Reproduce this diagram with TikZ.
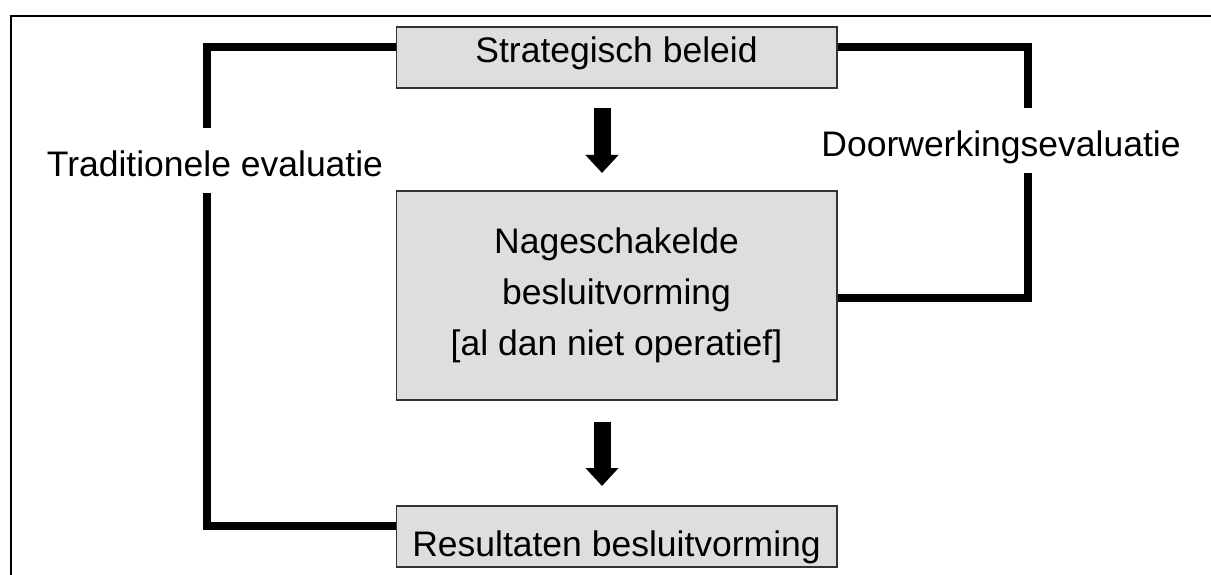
\documentclass[tikz,border=0pt]{standalone}
\usepackage{fontspec}
\setmainfont{Liberation Sans}
\usetikzlibrary{arrows.meta}
\tikzset{
  stage/.style={draw=black!80, line width=1.5pt, fill=black!13,
    minimum width=440.5pt, inner sep=0pt, align=center,
    font=\fontsize{35.5}{51}\selectfont},
  caption/.style={inner sep=0pt, anchor=base,
    font=\fontsize{35.5}{51}\selectfont},
  feedback/.style={line width=8pt, line join=miter},
  flow/.style={line width=17pt, -{Triangle[width=32pt,length=18pt]}},
}
\begin{document}
\begin{tikzpicture}[x=1pt,y=-1pt]
  \useasboundingbox (0,0) rectangle (1211,575);

  % outer frame
  \draw[line width=2pt] (11,575) -- (11,15.7) -- (1211,15.7);

  % coordinates of the feedback loops
  \coordinate (tl)    at (206.7,46.7);
  \coordinate (tlgap) at (206.7,128);
  \coordinate (blgap) at (206.7,193);
  \coordinate (bl)    at (206.7,526);
  \coordinate (tr)    at (1027.5,46.7);
  \coordinate (trgap) at (1027.5,108);
  \coordinate (brgap) at (1027.5,173);
  \coordinate (br)    at (1027.5,297.5);
  \coordinate (ax)    at (602,0);

  % stages
  \node[stage, minimum height=61pt, text height=26pt, text depth=15pt]
    (top) at (616.5,57.5) {Strategisch beleid};
  \node[stage, minimum height=209pt]
    (mid) at (616.5,295.5) {Nageschakelde\\besluitvorming\\{[al dan niet operatief]}};
  \node[stage, minimum height=61pt, text height=40pt, text depth=1pt]
    (bot) at (616.5,536.5) {Resultaten besluitvorming};

  % loop labels
  \node[caption] (trad) at (215,177) {Traditionele evaluatie};
  \node[caption] (door) at (1001,157) {Doorwerkingsevaluatie};

  % feedback loops
  \draw[feedback] (top.west |- tl) -- (tl) -- (tlgap);
  \draw[feedback] (blgap) -- (bl) -- (bot.west |- bl);
  \draw[feedback] (top.east |- tr) -- (tr) -- (trgap);
  \draw[feedback] (brgap) -- (br) -- (mid.east |- br);

  % main flow
  \draw[flow, shorten <=19.25pt, shorten >=17.25pt] (ax |- top.south) -- (ax |- mid.north);
  \draw[flow, shorten <=20.75pt, shorten >=19.25pt] (ax |- mid.south) -- (ax |- bot.north);
\end{tikzpicture}
\end{document}
